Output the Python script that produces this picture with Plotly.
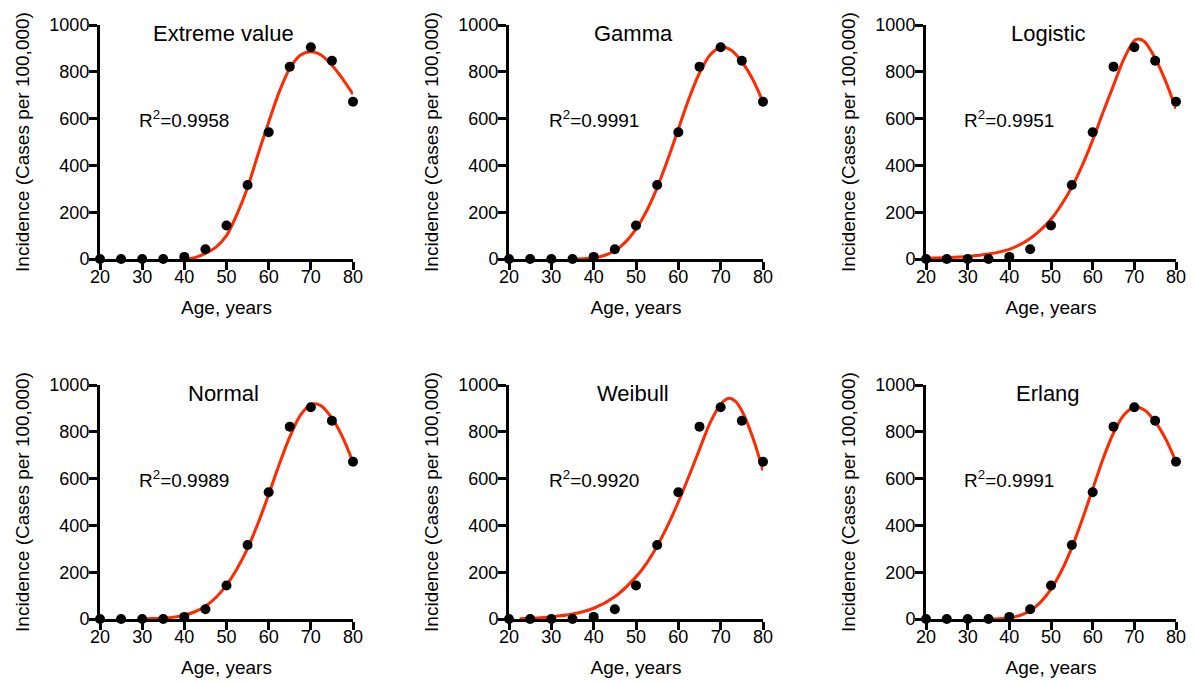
import plotly.graph_objects as go

ages = [20, 25, 30, 35, 40, 45, 50, 55, 60, 65, 70, 75, 80]
incidence = [0, 0, 0, 0, 9, 42, 143, 316, 542, 822, 905, 847, 672]

titles = ["Extreme value", "Gamma", "Logistic", "Normal", "Weibull", "Erlang"]
r2_labels = ["0.9958", "0.9991", "0.9951", "0.9989", "0.9920", "0.9991"]

ev_x = [40, 42.5, 45, 47.5, 50, 52.5, 55, 57.5, 60, 62.5, 65, 67.5, 70, 72.5, 75, 77.5, 80]
ev_y = [0, 6, 24, 51, 100, 192, 306, 449, 585, 714, 814, 871, 886, 871, 828, 771, 704]

gamma_x = [35, 37.5, 40, 42.5, 45, 47.5, 50, 52.5, 55, 57.5, 60, 62.5, 65, 67.5, 70, 72.5, 75, 77.5, 80]
gamma_y = [0, 1, 5, 15, 35, 72, 128, 205, 305, 425, 555, 685, 795, 872, 905, 892, 843, 770, 672]

logi_x = [20, 25, 30, 35, 40, 45, 50, 52.5, 55, 57.5, 60, 62.5, 65, 67.5, 70, 71, 72.5, 75, 77.5, 80]
logi_y = [3, 6, 11, 21, 41, 88, 170, 232, 307, 400, 508, 627, 742, 855, 933, 940, 928, 858, 760, 642]

norm_x = [30, 32.5, 35, 37.5, 40, 42.5, 45, 47.5, 50, 52.5, 55, 57.5, 60, 62.5, 65, 67.5, 70, 71, 72.5, 75, 77.5, 80]
norm_y = [0, 2, 4, 8, 16, 31, 55, 92, 145, 215, 302, 410, 532, 660, 778, 870, 916, 920, 910, 858, 778, 670]

weib_x = [22.5, 25, 30, 35, 40, 45, 50, 52.5, 55, 57.5, 60, 62.5, 65, 67.5, 70, 72, 73.5, 75, 77.5, 80]
weib_y = [1, 3, 9, 21, 46, 95, 180, 238, 312, 400, 500, 610, 725, 838, 918, 943, 930, 890, 780, 635]

erl_x = [35, 37.5, 40, 42.5, 45, 47.5, 50, 52.5, 55, 57.5, 60, 62.5, 65, 67.5, 70, 72.5, 75, 77.5, 80]
erl_y = [0, 1, 5, 15, 35, 72, 128, 205, 305, 425, 555, 685, 795, 872, 905, 892, 843, 770, 672]

curves = [(ev_x, ev_y), (gamma_x, gamma_y), (logi_x, logi_y),
          (norm_x, norm_y), (weib_x, weib_y), (erl_x, erl_y)]

# page is drawn with an 8px body margin
OFF = 8
W, H = 1194 - OFF, 683 - OFF
col_px = [(100, 353), (509, 763), (926, 1176)]
row_px = [(25, 259), (385, 619)]

FONT = "Liberation Sans, Arial, sans-serif"
RED = "#ff2a00"

fig = go.Figure()
for i in range(6):
    r, c = divmod(i, 3)
    n = "" if i == 0 else str(i + 1)
    xa, ya = "x" + n, "y" + n
    cx, cy = curves[i]
    fig.add_trace(go.Scatter(x=cx, y=cy, mode="lines", xaxis=xa, yaxis=ya,
                             line=dict(color=RED, width=3, shape="spline", smoothing=0.8),
                             cliponaxis=False, showlegend=False, hoverinfo="skip"))
    fig.add_trace(go.Scatter(x=ages, y=incidence, mode="markers", xaxis=xa, yaxis=ya,
                             marker=dict(color="black", size=10),
                             cliponaxis=False, showlegend=False))
    x0, x1 = col_px[c]
    y0, y1 = row_px[r]
    axis_common = dict(showgrid=False, zeroline=False, showline=True, linecolor="black",
                       linewidth=3, ticks="outside", ticklen=8, tickwidth=2.5,
                       tickcolor="black", layer="below traces", automargin=False,
                       tickfont=dict(family=FONT, size=18, color="black"))
    fig.layout["xaxis" + n] = dict(
        domain=[(x0 - OFF) / W, (x1 - OFF) / W], anchor=ya, range=[20, 80], tickmode="array",
        tickvals=[20, 30, 40, 50, 60, 70, 80], ticklabelstandoff=-9,
        title=dict(text="Age, years", font=dict(family=FONT, size=19, color="black"), standoff=16),
        **axis_common)
    fig.layout["yaxis" + n] = dict(
        domain=[1 - (y1 - OFF) / H, 1 - (y0 - OFF) / H], anchor=xa, range=[0, 1000], tickmode="array",
        tickvals=[0, 200, 400, 600, 800, 1000], ticklabelstandoff=-4,
        title=dict(text="Incidence (Cases per 100,000)", font=dict(family=FONT, size=19, color="black"), standoff=15),
        **axis_common)
    fig.add_annotation(x=49.3, y=965, xref=xa, yref=ya, text=titles[i], showarrow=False,
                       font=dict(family=FONT, size=22, color="black"))
    fig.add_annotation(x=40, y=600, xref=xa, yref=ya, text="R<sup>2</sup>=" + r2_labels[i],
                       showarrow=False, font=dict(family=FONT, size=19, color="black"))

fig.update_layout(width=W, height=H, margin=dict(l=0, r=0, t=0, b=0),
                  plot_bgcolor="white", paper_bgcolor="white")
fig.write_html("out.html")
